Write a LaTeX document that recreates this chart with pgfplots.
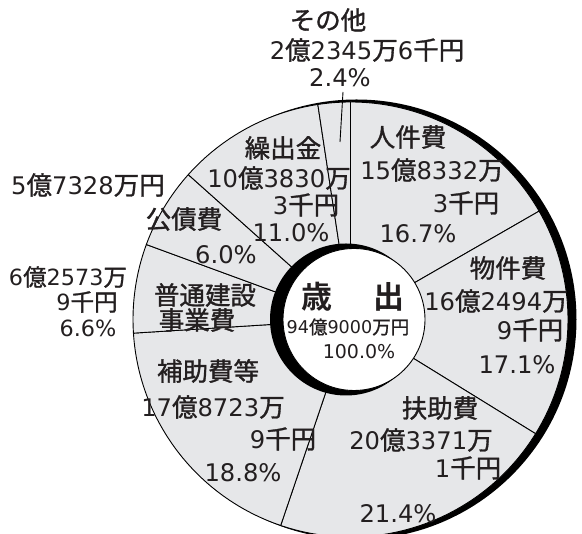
\documentclass[border=0pt]{standalone}
\usepackage{pgfplots}
\pgfplotsset{compat=1.18}
\usepackage{fontspec}
\setmainfont{Noto Sans CJK JP}[FakeBold=1.2]
\newfontfamily\dg{DejaVu Sans}[Scale=0.95]
\newfontfamily\jpb{Noto Sans CJK JP Bold}
\definecolor{pie}{RGB}{230,231,233}
\definecolor{ink}{RGB}{35,31,32}

\newcommand\D[1]{{\dg #1}}
% label at image pixel position (x from left, y from top)
\newcommand\lab[3]{\node[inner sep=0pt, text=ink, font=\fontsize{25.5}{27}\selectfont] at (axis cs:#1,{534-#2}) {#3};}
\newcommand\labs[3]{\node[inner sep=0pt, text=ink, font=\fontsize{23.5}{25}\selectfont] at (axis cs:#1,{534-#2}) {#3};}

\begin{document}
\begin{tikzpicture}
\begin{axis}[
  x=1pt, y=1pt,
  xmin=0, xmax=582, ymin=0, ymax=534,
  hide axis,
]
% shares of 歳出, clockwise from the top:
% 人件費, 物件費, 扶助費, 補助費等, 普通建設事業費, 公債費, 繰出金, その他
\pgfplotsextra{%
  \fill[black] (axis cs:356.5,214.5) circle[radius=220pt];
  \gdef\cum{0}%
  \foreach \v in {16.7,17.1,21.4,18.8,6.6,6.0,11.0,2.4}{%
    \pgfmathsetmacro\a{90-3.6*\cum}%
    \pgfmathsetmacro\b{90-3.6*(\cum+\v)}%
    \filldraw[fill=pie, draw=black, line width=0.9pt, line join=round]
      (axis cs:350.5,214.5) -- ++(\a:217.5pt)
      arc[start angle=\a, end angle=\b, radius=217.5pt] -- cycle;
    \pgfmathsetmacro\nc{\cum+\v}%
    \global\let\cum\nc
  }%
  \fill[black] (axis cs:346,214.5) circle[radius=76pt];
  \filldraw[fill=white, draw=black, line width=0.9pt] (axis cs:354,214.5) circle[radius=71pt];
  % leader for その他
  \draw[line width=0.9pt] (axis cs:343,{534-92}) -- (axis cs:340,{534-142});
}

\lab{328}{20}{その他}
\lab{367}{50}{\D{2}億\D{2345}万\D{6}千円}
\lab{340}{78}{\D{2.4\%}}

\lab{408}{137}{人件費}
\lab{432}{170}{\D{15}億\D{8332}万}
\lab{466}{203}{\D{3}千円}
\lab{418}{234}{\D{16.7\%}}

\lab{283}{148}{繰出金}
\lab{279}{178}{\D{10}億\D{3830}万}
\lab{306}{205}{\D{3}千円}
\lab{291}{233}{\D{11.0\%}}

\lab{88}{185}{\D{5}億\D{7328}万円}
\lab{184}{219}{公債費}
\lab{226}{255}{\D{6.0\%}}

\labs{68}{277}{\D{6}億\D{2573}万}
\labs{87}{302}{\D{9}千円}
\labs{88}{328}{\D{6.6\%}}
\lab{205}{295}{普通建設}
\lab{197}{320}{事業費}

\node[inner sep=0pt, text=ink, font=\fontsize{31}{33}\selectfont\jpb] at (axis cs:353,{534-297}) {歳\hspace{1.3em}出};
\node[inner sep=0pt, text=ink, font=\fontsize{18.5}{20}\selectfont] at (axis cs:348,{534-327}) {\D{94}億\D{9000}万円};
\node[inner sep=0pt, text=ink, font=\fontsize{20}{22}\selectfont] at (axis cs:359,{534-352}) {\D{100.0\%}};

\lab{508}{268}{物件費}
\lab{496}{301}{\D{16}億\D{2494}万}
\lab{530}{330}{\D{9}千円}
\lab{517}{365}{\D{17.1\%}}

\lab{208}{371}{補助費等}
\lab{213}{407}{\D{17}億\D{8723}万}
\lab{283}{439}{\D{9}千円}
\lab{243}{473}{\D{18.8\%}}

\lab{440}{408}{扶助費}
\lab{421}{440}{\D{20}億\D{3371}万}
\lab{468}{468}{\D{1}千円}
\lab{398}{514}{\D{21.4\%}}
\end{axis}
\pgfresetboundingbox
\path (0,0) rectangle (582pt,534pt);
\end{tikzpicture}
\end{document}
